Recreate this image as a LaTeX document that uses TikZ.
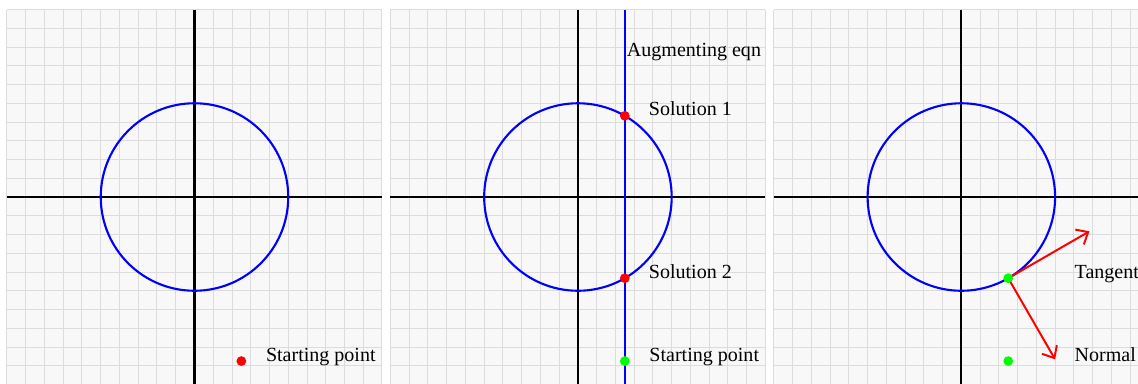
\documentclass[tikz,border=0pt]{standalone}
\usepackage{fontspec}
\setmainfont{Liberation Serif}
\usetikzlibrary{arrows.meta}
\definecolor{gridbg}{HTML}{F8F8F8}
\definecolor{gridln}{HTML}{DCDCDC}
\begin{document}
\begin{tikzpicture}[x=0.5cm,y=0.5cm,
  gridline/.style={draw=gridln,line width=0.75pt},
  axisline/.style={draw=black,line width=1.6pt},
  curve/.style={draw=blue,line width=1.6pt},
  augline/.style={draw=blue,line width=1.3pt},
  dotred/.style={circle,fill=red,inner sep=0pt,minimum size=7.4pt},
  dotgreen/.style={circle,fill=green,inner sep=0pt,minimum size=7.4pt},
  lbl/.style={anchor=base west,inner sep=0pt,font=\fontsize{15.2}{18}\selectfont},
  vec/.style={draw=red,line width=1.5pt,-{Straight Barb[length=7.5pt,width=13pt]}}]
\useasboundingbox (-10.373,-9.92) rectangle (50.32,10.507);
\clip (-10.373,-9.92) rectangle (50.32,10.507);
\foreach \cx in {0,20.45,40.9}{
  \begin{scope}[shift={(\cx,0)}]
    \fill[gridbg] (-10,-10) rectangle (10,10);
    \draw[gridline,step=1] (-10,-10) grid (10,10);
    \draw[axisline] (-10,0) -- (10,0);
    \draw[axisline] (0,-10) -- (0,10);
    \draw[curve] (0,0) circle (5);
  \end{scope}
}
% Panel 1
\node[dotred] (s1) at (2.5,-8.75) {};
\node[lbl] (s1l) at (3.8,-8.75) {Starting point};
% Panel 2
\coordinate (augtop) at (22.95,10);
\coordinate (augbot) at (22.95,-10);
\draw[augline] (augbot) -- (augtop);
\node[lbl] (augl) at (23.05,7.52) {Augmenting eqn};
\node[dotred] (sol1) at (22.95,4.33) {};
\node[lbl] (sol1l) at (24.22,4.33) {Solution 1};
\node[dotred] (sol2) at (22.95,-4.33) {};
\node[lbl] (sol2l) at (24.22,-4.33) {Solution 2};
\node[dotgreen] (s2) at (22.95,-8.75) {};
\node[lbl] (s2l) at (24.25,-8.75) {Starting point};
% Panel 3
\coordinate (p3c) at (43.4,-4.33);
\coordinate (tanend) at (47.73,-1.83);
\coordinate (norend) at (45.9,-8.66);
\draw[vec] (p3c) -- (tanend);
\draw[vec] (p3c) -- (norend);
\node[dotgreen] (p3) at (p3c) {};
\node[dotgreen] (s3) at (43.4,-8.75) {};
\node[lbl] (tanl) at (46.93,-4.33) {Tangent};
\node[lbl] (norl) at (46.93,-8.75) {Normal};
\end{tikzpicture}
\end{document}
